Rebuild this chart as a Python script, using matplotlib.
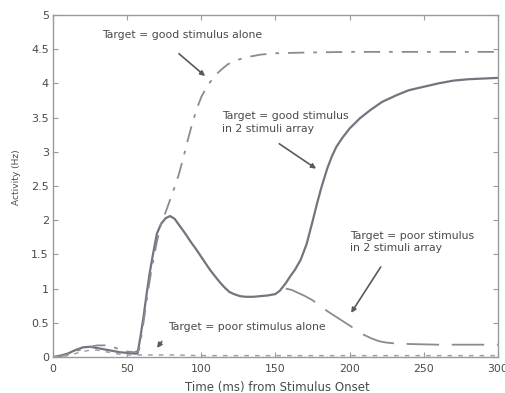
import matplotlib
matplotlib.use("Agg")
import matplotlib.pyplot as plt

plt.rcParams['font.family'] = ['DejaVu Sans']

# Target = good stimulus in 2 stimuli array (solid)
t_good_array = [0, 5, 10, 15, 20, 25, 30, 35, 40, 45, 50, 55, 57, 59, 61, 63, 65, 67,
                70, 73, 76, 79, 82, 85, 89, 93, 97, 101, 106, 110, 113, 116, 119, 122,
                126, 130, 135, 140, 145, 150, 153, 157, 160, 163, 167, 171, 175, 178,
                181, 185, 188, 191, 195, 200, 207, 214, 222, 232, 240, 250, 260, 270,
                280, 290, 300]
y_good_array = [0.0, 0.02, 0.05, 0.10, 0.14, 0.15, 0.13, 0.11, 0.09, 0.07, 0.06, 0.05,
                0.05, 0.30, 0.58, 0.90, 1.20, 1.45, 1.80, 1.95, 2.03, 2.06, 2.02, 1.93,
                1.81, 1.68, 1.56, 1.43, 1.27, 1.16, 1.08, 1.01, 0.95, 0.92, 0.89, 0.88,
                0.88, 0.89, 0.90, 0.92, 0.97, 1.08, 1.18, 1.27, 1.42, 1.65, 1.98, 2.24,
                2.48, 2.76, 2.93, 3.07, 3.20, 3.34, 3.49, 3.61, 3.73, 3.83, 3.90, 3.95,
                4.00, 4.04, 4.06, 4.07, 4.08]

# Target = poor stimulus in 2 stimuli array (dashed, leaves the shared trace near 155 ms)
t_poor_array = [157, 161, 165, 170, 175, 180, 185, 190, 195, 200, 205, 210, 215, 220,
                225, 230, 240, 260, 280, 300]
y_poor_array = [1.00, 0.98, 0.94, 0.89, 0.83, 0.75, 0.67, 0.60, 0.53, 0.46, 0.39, 0.32,
                0.27, 0.23, 0.21, 0.20, 0.19, 0.18, 0.18, 0.18]

# Target = good stimulus alone (dash-dot)
t_good_alone = [0, 5, 10, 15, 20, 25, 30, 35, 40, 45, 50, 55, 58, 60, 62, 64, 66, 68, 70,
                73, 76, 79, 82, 85, 88, 91, 94, 97, 100, 103, 106, 110, 114, 118, 124,
                130, 140, 150, 170, 200, 250, 300]
y_good_alone = [0.0, 0.01, 0.04, 0.08, 0.12, 0.15, 0.17, 0.17, 0.15, 0.11, 0.08, 0.07,
                0.10, 0.35, 0.65, 0.95, 1.22, 1.45, 1.68, 1.95, 2.12, 2.30, 2.48, 2.68,
                2.92, 3.18, 3.42, 3.63, 3.80, 3.92, 4.02, 4.13, 4.21, 4.28, 4.34, 4.38,
                4.42, 4.44, 4.45, 4.46, 4.46, 4.46]

# Target = poor stimulus alone (dotted)
t_poor_alone = [0, 5, 10, 15, 20, 25, 30, 35, 40, 45, 50, 55, 60, 70, 80, 100, 150, 200,
                250, 300]
y_poor_alone = [0.0, 0.01, 0.02, 0.05, 0.08, 0.10, 0.10, 0.08, 0.06, 0.04, 0.03, 0.03,
                0.03, 0.03, 0.03, 0.02, 0.02, 0.02, 0.02, 0.02]

x_ticks = [0, 50, 100, 150, 200, 250, 300]
y_ticks = [0, 0.5, 1, 1.5, 2, 2.5, 3, 3.5, 4, 4.5, 5]
y_tick_labels = ['0', '0.5', '1', '1.5', '2', '2.5', '3', '3.5', '4', '4.5', '5']

line_col = '#8a8a94'
text_col = '#4a4a4a'
spine_col = '#9a9a9a'

fig = plt.figure(figsize=(5.06, 3.93), dpi=100)
ax = fig.add_axes([0.1047, 0.0916, 0.8793, 0.8704])

ax.plot(t_good_array, y_good_array, color='#74747f', lw=1.6, solid_capstyle='round')
l, = ax.plot(t_poor_array, y_poor_array, color=line_col, lw=1.3)
l.set_dashes([18, 7])
l, = ax.plot(t_good_alone, y_good_alone, color=line_col, lw=1.3)
l.set_dashes([9, 5, 2, 5])
l, = ax.plot(t_poor_alone, y_poor_alone, color='#a0a0a8', lw=1.1)
l.set_dashes([3, 4])

ax.set_xlim(0, 300)
ax.set_ylim(0, 5)
ax.set_xticks(x_ticks)
ax.set_xticklabels([str(v) for v in x_ticks])
ax.set_yticks(y_ticks)
ax.set_yticklabels(y_tick_labels)
ax.tick_params(direction='in', length=3.5, width=0.8, color=spine_col,
               top=True, right=True, labelsize=8, labelcolor=text_col)
ax.tick_params(axis='x', pad=5, labelsize=7.8)
ax.tick_params(axis='y', pad=3)
for s in ax.spines.values():
    s.set_color(spine_col)
    s.set_linewidth(1.0)

ax.set_xlabel('Time (ms) from Stimulus Onset', fontsize=8.5, color=text_col)
ax.xaxis.set_label_coords(0.505, -0.07)
ax.set_ylabel('Activity (Hz)', fontsize=6.5, color=text_col)
ax.yaxis.set_label_coords(-0.072, 0.525)

arrow = dict(arrowstyle='-|>', color='#5a5a5a', lw=1.2, mutation_scale=7)
fs = 7.8
ax.text(33, 4.71, 'Target = good stimulus alone', fontsize=fs, color=text_col,
        va='center', ha='left')
ax.annotate('', xy=(104, 4.08), xytext=(83.5, 4.46), arrowprops=arrow)
ax.text(114, 3.43, 'Target = good stimulus\nin 2 stimuli array', fontsize=fs,
        color=text_col, va='center', ha='left', linespacing=1.35)
ax.annotate('', xy=(179, 2.73), xytext=(151, 3.14), arrowprops=arrow)
ax.text(200, 1.68, 'Target = poor stimulus\nin 2 stimuli array', fontsize=fs,
        color=text_col, va='center', ha='left', linespacing=1.35)
ax.annotate('', xy=(200, 0.61), xytext=(222, 1.35), arrowprops=arrow)
ax.text(77.5, 0.44, 'Target = poor stimulus alone', fontsize=fs, color=text_col,
        va='center', ha='left')
ax.annotate('', xy=(69, 0.1), xytext=(74.5, 0.26), arrowprops=arrow)

fig.savefig('out.png', dpi=100, facecolor='white')
